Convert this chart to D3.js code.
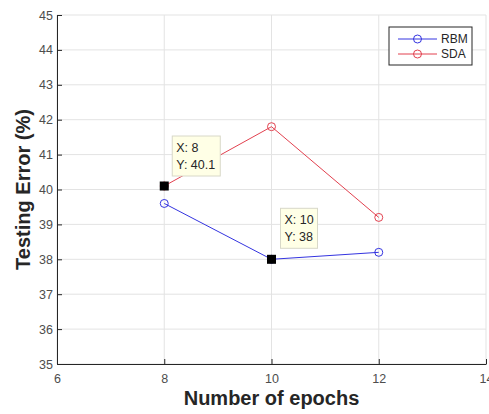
<!DOCTYPE html>
<html>
<head>
<meta charset="utf-8">
<script src="https://cdn.jsdelivr.net/npm/d3@7"></script>
<style>
  body { margin: 0; background: #fff; }
  svg { font-family: "Liberation Sans", Arial, sans-serif; }
</style>
</head>
<body>
<article></article>
<script>
const epochs = [8, 10, 12]
const rbm = [39.6, 38, 38.2]
const sda = [40.1, 41.8, 39.2]
const xTicks = [6, 8, 10, 12, 14]
const yTicks = [35, 36, 37, 38, 39, 40, 41, 42, 43, 44, 45]
const tips = [
    { x: 8, y: 40.1, label: ['X: 8', 'Y: 40.1'], dx: 8, dy: -50 },
    { x: 10, y: 38, label: ['X: 10', 'Y: 38'], dx: 9, dy: -51 }
]

const m = { width: 489, height: 414, left: 57, right: 486, top: 15, bottom: 364 }

const svg = d3.select('article').append('svg')
    .attr('width', m.width)
    .attr('height', m.height)

const x = d3.scaleLinear().domain([6, 14]).range([m.left, m.right])
const y = d3.scaleLinear().domain([35, 45]).range([m.bottom, m.top])

// grid
svg.append('g').selectAll('line')
    .data(xTicks)
    .enter().append('line')
    .attr('x1', d => x(d)).attr('x2', d => x(d))
    .attr('y1', m.top).attr('y2', m.bottom)
    .attr('stroke', '#e3e3e3')
svg.append('g').selectAll('line')
    .data(yTicks)
    .enter().append('line')
    .attr('x1', m.left).attr('x2', m.right)
    .attr('y1', d => y(d)).attr('y2', d => y(d))
    .attr('stroke', '#e3e3e3')

// axes
const xAxis = svg.append('g')
    .attr('transform', `translate(0,${m.bottom})`)
    .call(d3.axisBottom(x).tickValues(xTicks).tickSizeInner(-5).tickSizeOuter(0).tickPadding(10))
const yAxis = svg.append('g')
    .attr('transform', `translate(${m.left},0)`)
    .call(d3.axisLeft(y).tickValues(yTicks).tickSizeInner(-5).tickSizeOuter(0).tickPadding(4))

;[xAxis, yAxis].forEach(a => {
    a.select('.domain').attr('stroke', '#262626')
    a.selectAll('.tick line').attr('stroke', '#262626')
    a.selectAll('.tick text').attr('fill', '#4d4d4d').style('font-size', '12.5px')
})
yAxis.selectAll('.tick text').attr('dy', '0.32em')

// lines
const line = d3.line()
    .x((d, i) => x(epochs[i]))
    .y(d => y(d))

const series = [
    { name: 'RBM', values: rbm, color: '#3434e0' },
    { name: 'SDA', values: sda, color: '#e2414f' }
]

series.forEach(s => {
    svg.append('path')
        .datum(s.values)
        .attr('d', line)
        .attr('fill', 'none')
        .attr('stroke', s.color)
        .attr('stroke-width', 1)
    svg.append('g').selectAll('circle')
        .data(s.values)
        .enter().append('circle')
        .attr('cx', (d, i) => x(epochs[i]))
        .attr('cy', d => y(d))
        .attr('r', 4)
        .attr('fill', 'none')
        .attr('stroke', s.color)
})

// data tips
tips.forEach(t => {
    const px = x(t.x), py = y(t.y)
    const g = svg.append('g').attr('transform', `translate(${px + t.dx},${py + t.dy})`)
    const w = t.label[1].length > 5 ? 48 : 37
    g.append('rect')
        .attr('width', w).attr('height', 40)
        .attr('fill', '#ffffe6')
        .attr('stroke', '#d8d8c8')
    g.selectAll('text')
        .data(t.label)
        .enter().append('text')
        .attr('x', 4)
        .attr('y', (d, i) => 16 + i * 17)
        .attr('fill', '#262626')
        .style('font-size', '12.5px')
        .text(d => d)
    svg.append('rect')
        .attr('x', px - 4.5).attr('y', py - 4.5)
        .attr('width', 9).attr('height', 9)
        .attr('fill', '#000')
})

// legend
const lg = svg.append('g').attr('transform', 'translate(389,27)')
lg.append('rect')
    .attr('width', 83).attr('height', 38)
    .attr('fill', '#fff')
    .attr('stroke', '#262626')
const li = lg.selectAll('.item')
    .data(series)
    .enter().append('g')
    .attr('transform', (d, i) => `translate(0,${12 + i * 15})`)
li.append('line')
    .attr('x1', 9).attr('x2', 48)
    .attr('stroke', d => d.color)
li.append('circle')
    .attr('cx', 28.5).attr('r', 4)
    .attr('fill', 'none')
    .attr('stroke', d => d.color)
li.append('text')
    .attr('x', 52).attr('dy', '0.35em')
    .attr('fill', '#262626')
    .style('font-size', '12px')
    .text(d => d.name)

// axis titles
svg.append('text')
    .attr('x', x(10)).attr('y', 405)
    .attr('text-anchor', 'middle')
    .attr('fill', '#262626')
    .style('font-size', '20px').style('font-weight', 'bold')
    .text('Number of epochs')
svg.append('text')
    .attr('transform', `translate(30,${(m.top + m.bottom) / 2}) rotate(-90)`)
    .attr('text-anchor', 'middle')
    .attr('fill', '#262626')
    .style('font-size', '20px').style('font-weight', 'bold')
    .text('Testing Error (%)')
</script>
</body>
</html>
